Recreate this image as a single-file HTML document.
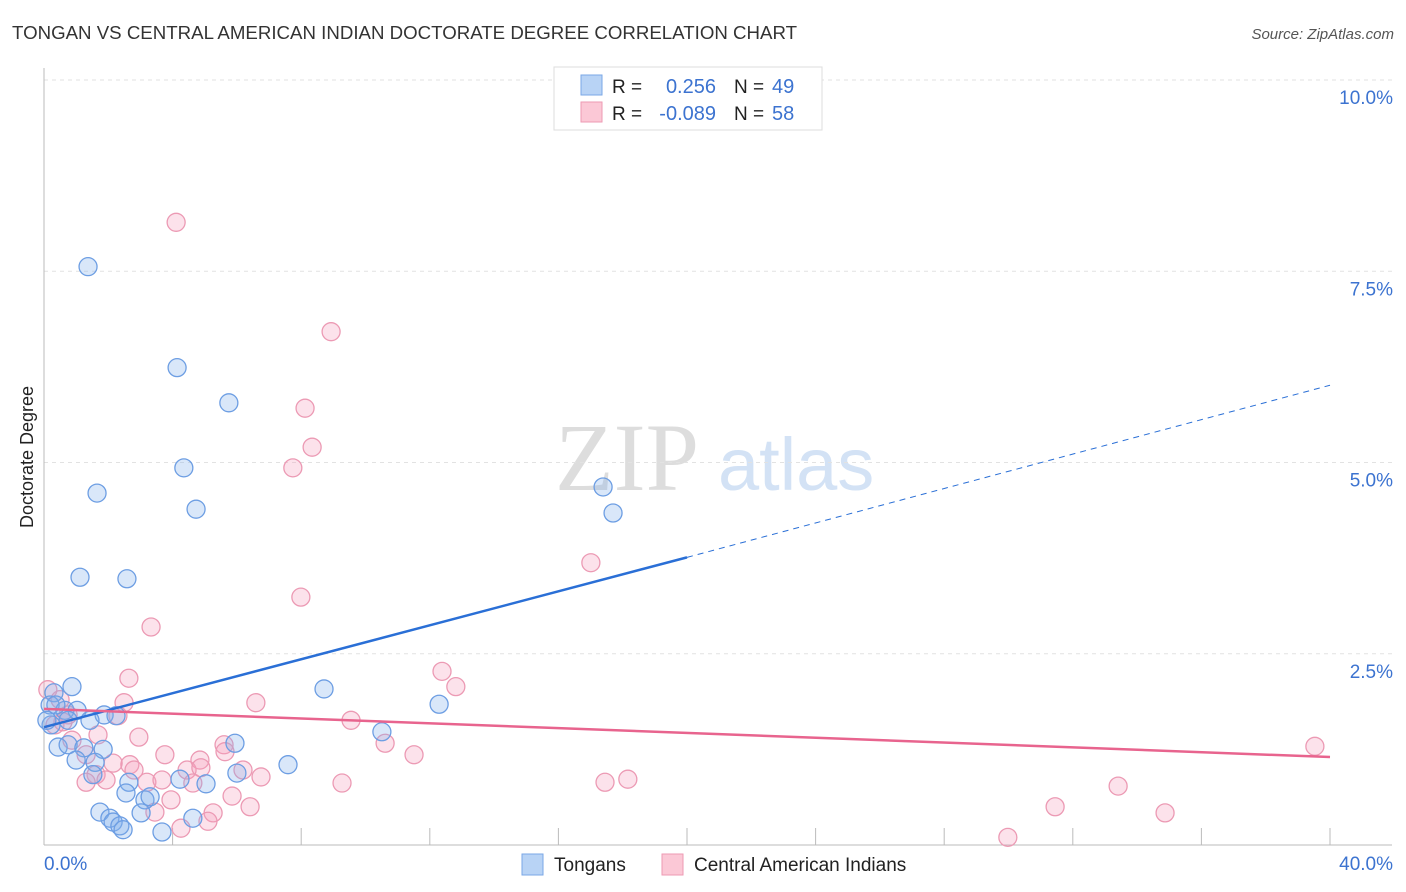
<!DOCTYPE html>
<html><head><meta charset="utf-8"><style>
body{margin:0;background:#fff;font-family:"Liberation Sans",sans-serif;}
svg{display:block}
</style></head><body>
<svg id="chart" width="1406" height="892" xmlns="http://www.w3.org/2000/svg">
<text x="12" y="39" font-size="18" fill="#333" textLength="785" lengthAdjust="spacingAndGlyphs">TONGAN VS CENTRAL AMERICAN INDIAN DOCTORATE DEGREE CORRELATION CHART</text>
<text x="1394" y="39" font-size="15" fill="#555" text-anchor="end" font-style="italic">Source: ZipAtlas.com</text>
<g><text x="555" y="490" font-size="96" fill="#ddd" font-family="Liberation Serif,serif">ZIP</text><text x="718" y="490" font-size="74" fill="#d3e2f5">atlas</text></g>
<text transform="translate(33,457) rotate(-90)" font-size="18" fill="#222" text-anchor="middle">Doctorate Degree</text>
<g id="grid"></g><g id="ticks"></g><g id="marks"></g><g id="trends"></g>
<g>
<rect x="554" y="67" width="268" height="63" fill="#fff" stroke="#ddd"/>
<rect x="581" y="75" width="21" height="20" fill="#b8d3f5" stroke="#7aa7e6"/>
<rect x="581" y="102" width="21" height="20" fill="#fbc8d6" stroke="#ee9ab3"/>
<text x="612" y="93" font-size="19" fill="#222">R =</text><text x="716" y="93" font-size="20" fill="#3c73d0" text-anchor="end">0.256</text>
<text x="734" y="93" font-size="19" fill="#222">N =</text><text x="772" y="93" font-size="20" fill="#3c73d0">49</text>
<text x="612" y="120" font-size="19" fill="#222">R =</text><text x="716" y="120" font-size="20" fill="#3c73d0" text-anchor="end">-0.089</text>
<text x="734" y="120" font-size="19" fill="#222">N =</text><text x="772" y="120" font-size="20" fill="#3c73d0">58</text>
</g>
<g>
<rect x="522" y="854" width="21" height="21" fill="#b8d3f5" stroke="#7aa7e6"/>
<text x="554" y="871" font-size="19" fill="#222">Tongans</text>
<rect x="662" y="854" width="21" height="21" fill="#fbc8d6" stroke="#ee9ab3"/>
<text x="694" y="871" font-size="19" fill="#222">Central American Indians</text>
</g>
</svg>
<script>
const yTicks=[2.5,5.0,7.5,10.0];
const yTickLabels=["2.5%","5.0%","7.5%","10.0%"];
const xTicks=[0,4,8,12,16,20,24,28,32,36,40];
const tonX=[1.37,4.14,5.75,4.35,1.65,4.73,1.12,2.58,17.39,17.70,0.87,8.71,12.29,0.31,0.19,0.65,1.03,1.87,2.24,1.43,0.75,0.22,5.94,10.51,0.44,0.75,1.24,1.84,1.00,1.59,7.59,6.00,4.23,5.04,2.64,1.52,2.55,3.14,3.30,1.74,2.05,2.15,2.36,2.46,3.02,3.67,4.63,0.09,0.37];
const tonY=[7.56,6.24,5.78,4.93,4.60,4.39,3.50,3.48,4.68,4.34,2.07,2.04,1.84,1.99,1.83,1.76,1.76,1.70,1.69,1.63,1.63,1.57,1.33,1.48,1.28,1.31,1.27,1.25,1.11,1.08,1.05,0.94,0.86,0.80,0.82,0.92,0.68,0.59,0.63,0.43,0.35,0.30,0.25,0.20,0.42,0.17,0.35,1.63,1.83];
const camX=[4.11,8.93,8.12,8.34,7.74,17.01,7.99,3.33,2.64,12.38,12.81,6.59,2.49,2.30,9.55,0.12,0.50,0.75,0.34,0.59,0.87,1.68,1.31,2.95,10.61,11.51,3.76,2.67,2.15,5.60,4.85,4.45,1.62,1.93,1.31,2.80,3.20,3.67,4.88,6.19,6.75,4.63,5.63,9.27,17.45,18.16,5.85,6.41,3.95,3.45,5.26,5.10,4.26,31.45,33.41,34.87,29.98,39.53];
const camY=[8.14,6.71,5.71,5.20,4.93,3.69,3.24,2.85,2.18,2.27,2.07,1.86,1.86,1.69,1.63,2.03,1.90,1.70,1.57,1.61,1.37,1.44,1.18,1.41,1.33,1.18,1.18,1.05,1.07,1.31,1.11,0.98,0.92,0.85,0.82,0.98,0.82,0.85,1.01,0.98,0.89,0.81,1.22,0.81,0.82,0.86,0.64,0.50,0.59,0.43,0.42,0.31,0.22,0.50,0.77,0.42,0.10,1.29];
const tonTrendX=[0,20,40];
const tonTrendY=[1.54,3.76,6.01];
const camTrendX=[0,40];
const camTrendY=[1.78,1.15];
const NS="http://www.w3.org/2000/svg";
const sx=v=>44+v/40*1286;
const sy=v=>845-v*76.5;
function mk(tag,parent,attrs){const e=document.createElementNS(NS,tag);for(const k in attrs)e.setAttribute(k,attrs[k]);document.getElementById(parent).appendChild(e);return e;}
yTicks.forEach((t,i)=>{
 const l=mk('line','grid',{x1:44,x2:1392,y1:sy(t),y2:sy(t),stroke:'#e2e2e2','stroke-dasharray':'4,4'});
 
 
 const tx=mk('text','ticks',{x:1393,y:sy(t)+24,'font-size':19,fill:'#3c73d0','text-anchor':'end'});
 tx.textContent=yTickLabels[i];
 
 
});
const ax=mk('line','grid',{x1:44,x2:44,y1:68,y2:845,stroke:'#bbb'});


const bx=mk('line','grid',{x1:44,x2:1392,y1:845,y2:845,stroke:'#bbb'});


xTicks.forEach(t=>{
 const l=mk('line','grid',{x1:sx(t),x2:sx(t),y1:828,y2:845,stroke:'#bbb'});
 
 
});
const x0=mk('text','ticks',{x:44,y:870,'font-size':19,fill:'#3c73d0'});x0.textContent='0.0%';


const x1=mk('text','ticks',{x:1393,y:870,'font-size':19,fill:'#3c73d0','text-anchor':'end'});x1.textContent='40.0%';


camX.forEach((v,i)=>{
 const c=mk('circle','marks',{cx:sx(v),cy:sy(camY[i]),r:9,fill:'rgba(245,160,188,0.3)',stroke:'#ec9ab4','stroke-width':1.3});
 
 
});
tonX.forEach((v,i)=>{
 const c=mk('circle','marks',{cx:sx(v),cy:sy(tonY[i]),r:9,fill:'rgba(130,175,235,0.3)',stroke:'#6d9ee3','stroke-width':1.3});
 
 
});
const t1=mk('line','trends',{x1:sx(tonTrendX[0]),y1:sy(tonTrendY[0]),x2:sx(tonTrendX[1]),y2:sy(tonTrendY[1]),stroke:'#2a6fd6','stroke-width':2.5});


const t2=mk('line','trends',{x1:sx(tonTrendX[1]),y1:sy(tonTrendY[1]),x2:sx(tonTrendX[2]),y2:sy(tonTrendY[2]),stroke:'#2a6fd6','stroke-width':1,'stroke-dasharray':'6,5'});


const t3=mk('line','trends',{x1:sx(camTrendX[0]),y1:sy(camTrendY[0]),x2:sx(camTrendX[1]),y2:sy(camTrendY[1]),stroke:'#e8648e','stroke-width':2.5});


</script>
</body></html>
